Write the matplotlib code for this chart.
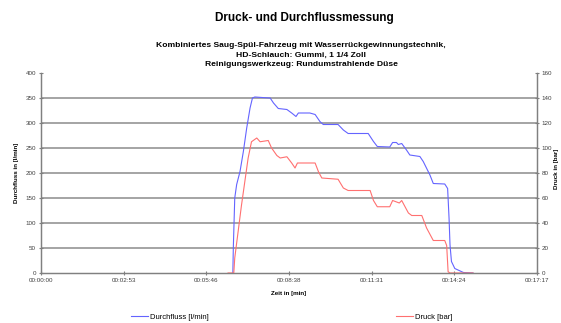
import numpy as np
import matplotlib.pyplot as plt
from matplotlib.ticker import FuncFormatter, MultipleLocator

plt.rcParams['font.family'] = ['Liberation Sans', 'DejaVu Sans']

# Messwerte: Zeit in Sekunden, Durchfluss in l/min
t_fluss = [401, 402, 405, 409, 416, 423, 430, 437, 442, 447, 462, 479, 486, 496,
           514, 524, 533, 538, 562, 573, 583, 590, 621, 632, 642, 684, 695, 703,
           729, 735, 743, 747, 754, 764, 771, 792, 799, 813, 820, 844, 850, 853,
           855, 858, 865, 883, 903]
durchfluss = [0, 50, 150, 177, 203, 243, 290, 330, 350, 352, 351, 350, 340, 329,
              327, 320, 313, 320, 320, 317, 303, 297, 297, 286, 279, 279, 263, 253,
              252, 261, 261, 257, 259, 246, 236, 233, 223, 196, 179, 178, 169, 109,
              56, 23, 9, 1, 0]

# Messwerte: Zeit in Sekunden, Druck in bar
t_druck = [391, 403, 405, 412, 419, 426, 433, 440, 451, 458, 475, 482, 493, 500,
           514, 524, 531, 536, 573, 580, 587, 621, 632, 642, 688, 695, 703, 729,
           735, 742, 749, 754, 768, 775, 796, 806, 820, 844, 848, 851, 855, 903]
druck = [0, 0, 12, 33, 54, 73, 92, 105, 108, 105, 106, 100, 94, 92,
         93, 88, 84, 88, 88, 81, 76, 75, 68, 66, 66, 58, 53, 53,
         58, 57, 56, 58, 48, 46, 46, 36, 26, 26, 22, 1, 0, 0]

x_ticks = np.arange(0, 1037.0, 172.8)


def hms(x, pos=None):
    s = int(round(x))
    return '%02d:%02d:%02d' % (s // 3600, (s % 3600) // 60, s % 60)


fig = plt.figure(figsize=(5.61, 3.23), dpi=100)
ax = fig.add_axes([0.0731, 0.1548, 0.8841, 0.6192])
ax2 = ax.twinx()

l1, = ax.plot(t_fluss, durchfluss, color='#6464ff', lw=0.8)
l2, = ax2.plot(t_druck, druck, color='#ff7070', lw=0.8)

ax.set_xlim(0, 1036.8)
ax.set_ylim(0, 400)
ax2.set_ylim(0, 160)
ax.set_xticks(x_ticks)
ax.xaxis.set_major_formatter(FuncFormatter(hms))
ax.yaxis.set_major_locator(MultipleLocator(50))
ax2.yaxis.set_major_locator(MultipleLocator(20))

for y in range(50, 400, 50):
    ax.axhline(y, color='#8c8c8c', lw=1.1, zorder=0)

for a in (ax, ax2):
    a.spines['top'].set_visible(False)
    for s in a.spines.values():
        s.set_color('#808080')
        s.set_linewidth(0.9)
    a.tick_params(labelsize=4.5, colors='#808080', labelcolor='#404040',
                  direction='inout', length=3, width=0.8, pad=2)

ax.set_xlabel('Zeit in [min]', fontsize=4.5, fontweight='bold', labelpad=6)
ax.set_ylabel('Durchfluss in [l/min]', fontsize=4.5, fontweight='bold', labelpad=5)
ax2.set_ylabel('Druck in [bar]', fontsize=4.5, fontweight='bold', rotation=90)
ax2.yaxis.set_label_coords(1.034, 0.52)

fig.text(0.543, 0.944, 'Druck- und Durchflussmessung', ha='center', va='center',
         fontsize=8.5, fontweight='bold')
fig.text(0.537, 0.829, 'Kombiniertes Saug-Spül-Fahrzeug mit Wasserrückgewinnungstechnik,\n'
         'HD-Schlauch: Gummi, 1 1/4 Zoll\nReinigungswerkzeug: Rundumstrahlende Düse',
         ha='center', va='center', fontsize=6.1, fontweight='bold', linespacing=1.55)

fig.legend([l1, l2], ['Durchfluss [l/min]', 'Druck [bar]'], loc='center',
           bbox_to_anchor=(0.52, 0.018), ncol=2, frameon=False, fontsize=5.5,
           handlelength=2.2, handletextpad=0.3, columnspacing=24.5)

fig.savefig('out.png', dpi=100)
